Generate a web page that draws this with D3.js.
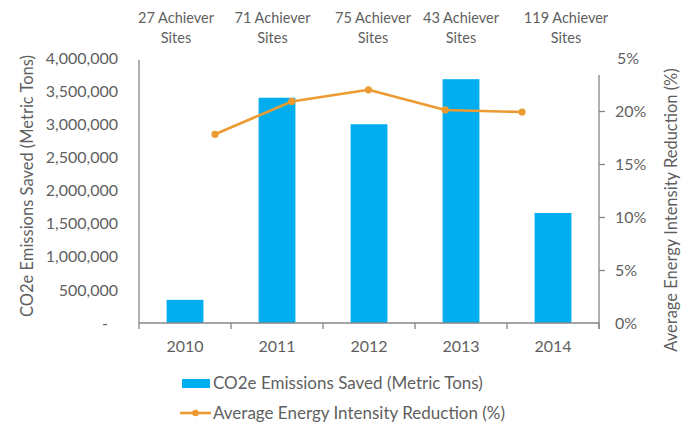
<!DOCTYPE html>
<html>
<head>
<meta charset="utf-8">
<script src="https://cdn.jsdelivr.net/npm/d3@7"></script>
<style>
  html, body { margin: 0; padding: 0; background: #fff; }
  svg { display: block; font-family: Lato, "Open Sans", sans-serif; }
  text { fill: #5f5f5f; }
</style>
</head>
<body>
<svg id="chart" width="685" height="426"></svg>
<script>
// ---- data ----
const years = ["2010", "2011", "2012", "2013", "2014"];
const co2Saved = [350000, 3400000, 3000000, 3680000, 1660000];
const intensityReduction = [0.178, 0.209, 0.220, 0.201, 0.199];
const siteCounts = ["27 Achiever", "71 Achiever", "75 Achiever", "43 Achiever", "119 Achiever"];
const leftTickValues = [0, 500000, 1000000, 1500000, 2000000, 2500000, 3000000, 3500000, 4000000];
const leftTickLabels = ["-", "500,000", "1,000,000", "1,500,000", "2,000,000", "2,500,000", "3,000,000", "3,500,000", "4,000,000"];
const rightTickValues = [0, 0.05, 0.10, 0.15, 0.20, 0.25];
const rightTickLabels = ["0%", "5%", "10%", "15%", "20%", "5%"];
const seriesNames = ["CO2e Emissions Saved (Metric Tons)", "Average Energy Intensity Reduction (%)"];

// ---- layout ----
const svg = d3.select("#chart");
const textColor = "#5f5f5f";
const axisColor = "#868686";
const barColor = "#00ADEF";
const lineColor = "#EC9B32";
const plotLeft = 139, plotRight = 599, plotBottom = 323, plotTop = 58;

const x = d3.scaleBand().domain(years).range([plotLeft, plotRight])
  .paddingInner(0.6).paddingOuter(0.3);
const xLine = d3.scalePoint().domain(years).range([215, 522]);
const yL = d3.scaleLinear().domain([0, 4000000]).range([plotBottom, plotTop]);
const yR = d3.scaleLinear().domain([0, 0.25]).range([plotBottom, plotTop]);

// bars
svg.append("g").selectAll("rect").data(years).join("rect")
  .attr("x", (d) => x(d))
  .attr("width", x.bandwidth())
  .attr("y", (d, i) => yL(co2Saved[i]))
  .attr("height", (d, i) => yL(0) - yL(co2Saved[i]))
  .attr("fill", barColor);

// left axis (no tick marks)
const leftAxis = d3.axisLeft(yL).tickValues(leftTickValues)
  .tickFormat((d, i) => leftTickLabels[i]).tickSize(0).tickPadding(21);
const gL = svg.append("g").attr("transform", `translate(${plotLeft},0)`).call(leftAxis);
gL.select(".domain").remove();
gL.selectAll("text").attr("font-size", 16).attr("fill", textColor).attr("font-family", "Lato")
  .attr("dx", (d) => d === 0 ? -10 : 0);
svg.append("line").attr("x1", plotLeft).attr("x2", plotLeft).attr("y1", 60).attr("y2", plotBottom)
  .attr("stroke", axisColor).attr("stroke-width", 1.3);

// right axis
const rightAxis = d3.axisRight(yR).tickValues(rightTickValues)
  .tickFormat((d, i) => rightTickLabels[i]).tickSize(6).tickPadding(10);
const gR = svg.append("g").attr("transform", `translate(${plotRight},0)`).call(rightAxis);
gR.select(".domain").remove();
gR.selectAll(".tick line").attr("stroke", axisColor).attr("stroke-width", 1.3)
  .attr("opacity", (d) => (d === 0 || d === 0.25) ? 0 : 1);
gR.selectAll("text").attr("font-size", 16).attr("fill", textColor).attr("font-family", "Lato")
  .attr("dx", (d) => d === 0.25 ? 2 : 0);
svg.append("line").attr("x1", plotRight).attr("x2", plotRight).attr("y1", 75).attr("y2", plotBottom + 6)
  .attr("stroke", axisColor).attr("stroke-width", 1.3);

// x axis
const xAxis = d3.axisBottom(x).tickSize(0).tickPadding(18);
const gX = svg.append("g").attr("transform", `translate(0,${plotBottom})`).call(xAxis);
gX.select(".domain").remove();
gX.selectAll("text").attr("font-size", 16).attr("fill", textColor).attr("font-family", "Lato");
svg.append("line").attr("x1", plotLeft).attr("x2", plotRight).attr("y1", plotBottom).attr("y2", plotBottom)
  .attr("stroke", axisColor).attr("stroke-width", 1.3);
// category boundary ticks
const bounds = years.map((d) => x(d) + x.bandwidth() / 2 - x.step() / 2).concat([plotRight]);
svg.append("g").selectAll("line").data(bounds).join("line")
  .attr("x1", (d) => d).attr("x2", (d) => d)
  .attr("y1", plotBottom).attr("y2", plotBottom + 6)
  .attr("stroke", axisColor).attr("stroke-width", 1.3);

// line series
const lineGen = d3.line().x((d, i) => xLine(years[i])).y((d) => yR(d));
svg.append("path").datum(intensityReduction)
  .attr("d", lineGen).attr("fill", "none")
  .attr("stroke", lineColor).attr("stroke-width", 2.6).attr("stroke-linejoin", "round");
svg.append("g").selectAll("circle").data(intensityReduction).join("circle")
  .attr("cx", (d, i) => xLine(years[i])).attr("cy", (d) => yR(d)).attr("r", 3.6)
  .attr("fill", lineColor);

// site annotations above
const labelCenters = [176, 272.5, 373, 461, 566];
const ann = svg.append("g").attr("font-size", 14.5).attr("text-anchor", "middle");
siteCounts.forEach((s, i) => {
  ann.append("text").attr("x", labelCenters[i]).attr("y", 23).text(s);
  ann.append("text").attr("x", labelCenters[i]).attr("y", 43).text("Sites");
});

// axis titles
svg.append("text").attr("transform", "translate(33,186) rotate(-90)")
  .attr("text-anchor", "middle").attr("font-size", 16.5).text(seriesNames[0]);
svg.append("text").attr("transform", "translate(677,210) rotate(-90)")
  .attr("text-anchor", "middle").attr("font-size", 16.5).text(seriesNames[1]);

// legend
const lg = svg.append("g").attr("font-size", 17);
lg.append("rect").attr("x", 182).attr("y", 379).attr("width", 28).attr("height", 9).attr("fill", barColor);
lg.append("text").attr("x", 213).attr("y", 389).text(seriesNames[0]);
lg.append("line").attr("x1", 180).attr("x2", 211).attr("y1", 413).attr("y2", 413)
  .attr("stroke", lineColor).attr("stroke-width", 2.6);
lg.append("circle").attr("cx", 195.5).attr("cy", 413).attr("r", 3.3).attr("fill", lineColor);
lg.append("text").attr("x", 213).attr("y", 419).text(seriesNames[1]);
</script>
</body>
</html>
